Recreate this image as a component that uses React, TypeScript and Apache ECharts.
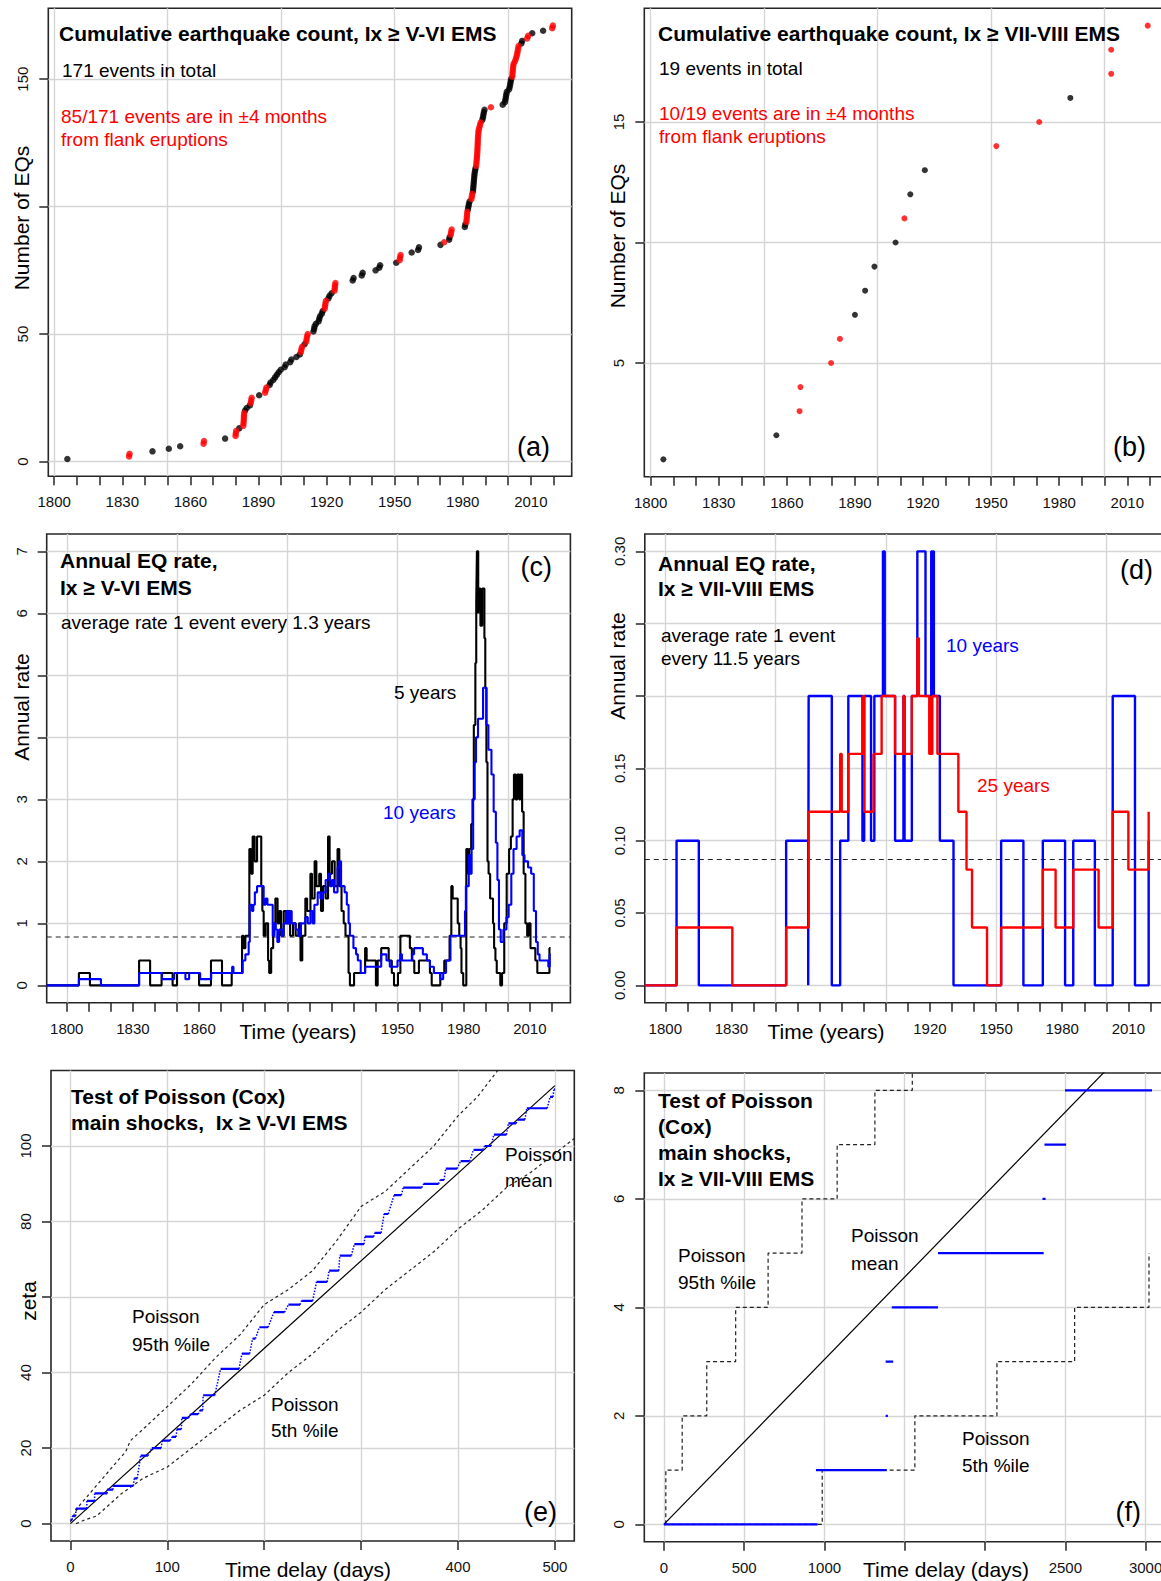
import React, { useEffect, useRef } from "react";
import * as echarts from "echarts";

const FONT = "'Liberation Sans', Arial, Helvetica, sans-serif";
const INK = "#111111";
const BOX = "#262626";
const GRID_COLOR = "#d5d5d5";
const RED = "#ff0000";
const BLUE = "#0000ff";

// ---------- (a) earthquakes Ix >= V-VI : [year, 1 = within ±4 months of flank eruption] ----------
const eventsA: [number, number][] = [
  [1805.8, 0],
  [1833.0, 1], [1833.2, 1],
  [1843.3, 0], [1850.5, 0], [1855.5, 0],
  [1865.8, 1], [1866.0, 1],
  [1875.3, 0],
  [1879.9, 1], [1880.0, 1], [1880.2, 1],
  [1881.5, 0],
  [1883.3, 1], [1883.4, 1], [1883.5, 1], [1883.55, 1], [1883.6, 1], [1883.7, 1],
  [1884.1, 0], [1884.8, 0], [1886.2, 0],
  [1886.6, 1], [1886.8, 1], [1887.0, 1],
  [1890.3, 0],
  [1892.9, 1], [1893.2, 1], [1893.5, 1],
  [1894.9, 0], [1895.3, 0], [1896.5, 0], [1897.3, 0], [1898.1, 0], [1898.9, 0], [1899.8, 0],
  [1901.5, 0], [1902.0, 0], [1904.0, 0], [1904.5, 0], [1906.7, 0], [1908.2, 0],
  [1908.7, 1], [1908.9, 1], [1909.2, 1],
  [1910.3, 0],
  [1911.0, 1], [1911.2, 1], [1911.4, 1], [1911.7, 1],
  [1914.2, 0], [1914.5, 0], [1914.7, 0], [1915.3, 0], [1916.5, 0], [1916.8, 0], [1917.1, 0], [1917.9, 0], [1918.3, 0],
  [1919.2, 1], [1919.3, 1], [1919.5, 1], [1919.7, 1],
  [1920.8, 0], [1921.3, 0], [1922.2, 0],
  [1923.5, 1], [1923.6, 1], [1923.7, 1], [1923.9, 1],
  [1931.5, 0], [1931.9, 0], [1935.5, 0], [1935.9, 0], [1941.6, 0], [1943.2, 0], [1943.6, 0], [1950.7, 0],
  [1952.2, 1], [1952.4, 1], [1952.6, 1],
  [1957.5, 0], [1960.3, 0], [1960.7, 0], [1970.2, 0],
  [1971.8, 1],
  [1974.0, 0], [1974.2, 0],
  [1974.7, 1], [1974.9, 1], [1975.1, 1],
  [1980.9, 0], [1981.1, 0],
  [1981.6, 1], [1981.7, 1], [1981.8, 1], [1981.9, 1], [1982.0, 1],
  [1982.3, 0], [1982.5, 0], [1982.7, 0], [1983.0, 0],
  [1983.8, 1], [1984.0, 1], [1984.2, 1],
  [1984.5, 0], [1984.6, 0], [1984.7, 0], [1984.8, 0], [1984.9, 0], [1985.0, 0], [1985.1, 0], [1985.2, 0], [1985.4, 0], [1985.6, 0],
  [1985.9, 1], [1986.0, 1], [1986.1, 1], [1986.2, 1], [1986.3, 1], [1986.4, 1], [1986.45, 1], [1986.5, 1], [1986.55, 1],
  [1986.6, 1], [1986.65, 1], [1986.7, 1], [1986.8, 1], [1986.9, 1], [1987.0, 1], [1987.3, 1], [1987.6, 1], [1987.9, 1],
  [1988.6, 0], [1988.9, 0], [1989.1, 0], [1989.3, 0], [1989.6, 0],
  [1992.4, 1],
  [1997.6, 0], [1998.6, 0], [1998.8, 0], [1999.0, 0], [1999.2, 0], [1999.4, 0],
  [2000.4, 0], [2000.7, 0], [2000.9, 0], [2001.1, 0], [2001.3, 0],
  [2001.8, 1], [2001.9, 1], [2002.0, 1], [2002.1, 1], [2002.2, 1], [2002.4, 1], [2003.0, 1],
  [2003.4, 1], [2003.7, 1], [2004.0, 1], [2004.2, 1], [2004.4, 1], [2004.6, 1],
  [2005.8, 0], [2006.2, 0],
  [2008.4, 1], [2008.8, 1],
  [2010.6, 0], [2015.4, 0],
  [2019.4, 1], [2019.7, 1],
];

// ---------- (b) earthquakes Ix >= VII-VIII ----------
const eventsB: [number, number][] = [
  [1805.6, 0], [1855.4, 0], [1865.6, 1], [1866.0, 1], [1879.5, 1], [1883.4, 1], [1890.0, 0],
  [1894.5, 0], [1898.6, 0], [1907.9, 0], [1911.8, 1], [1914.4, 0], [1920.8, 0], [1952.3, 1],
  [1971.2, 1], [1984.9, 0], [2002.9, 1], [2002.9, 1], [2019.0, 1],
];

// ---------- (c) annual rate, Ix >= V-VI : [start year, rate] step values ----------
const rate5yC: [number, number][] = [
  [1790.9, 0], [1805.5, 0.2], [1810.5, 0], [1832.8, 0.4], [1837.8, 0], [1843, 0.2], [1848, 0], [1850, 0.2], [1860, 0],
  [1865.4, 0.4], [1870.4, 0], [1874.8, 0.2], [1879.5, 0.8], [1880.2, 0.6], [1881, 0.8], [1882.8, 2.2], [1883.6, 1.8],
  [1884.3, 2.4], [1885.2, 2.0], [1886.3, 2.4], [1888.2, 1.6], [1888.7, 1.2], [1889.3, 0.8], [1890.2, 1.0], [1891.3, 0.4],
  [1891.8, 0.2], [1892.7, 0.6], [1893.6, 1.0], [1894.6, 1.4], [1895.6, 1.0], [1896.4, 1.2], [1897.2, 0.8], [1898.4, 1.2],
  [1899.5, 1.0], [1900.4, 1.2], [1901.3, 0.8], [1902.6, 1.0], [1903.8, 0.8], [1905.3, 1.0], [1906, 0.4], [1906.8, 0.8],
  [1908.2, 1.4], [1909, 1.2], [1910.5, 1.8], [1911.2, 1.4], [1912.4, 2.0], [1913.2, 1.6], [1914.5, 1.8], [1915.3, 1.2],
  [1916.2, 1.6], [1917.4, 1.4], [1918.5, 2.4], [1919.2, 1.8], [1920.3, 2.0], [1921.5, 1.6], [1922.8, 2.2], [1923.6, 1.6],
  [1924.6, 1.2], [1925.6, 1.0], [1926.4, 0.8], [1927.8, 0.2], [1928.4, 0], [1930.3, 0.2], [1935.3, 0.6], [1936, 0.4],
  [1940.2, 0], [1941, 0.4], [1942.6, 0.6], [1946, 0.4], [1947.4, 0.2], [1948.4, 0], [1950.2, 0.2], [1951.3, 0.8],
  [1955.6, 0.6], [1956.5, 0.4], [1957.6, 0.2], [1959.7, 0.4], [1964.7, 0.2], [1965.5, 0], [1969.4, 0.2], [1971.2, 0.4],
  [1973.6, 0.8], [1974.4, 1.6], [1975, 1.4], [1977.3, 1.0], [1978, 0.8], [1978.6, 0.6], [1979, 0.2], [1979.8, 0],
  [1981.2, 2.2], [1982, 1.8], [1982.6, 2.2], [1983.4, 2.6], [1984, 3.0], [1984.6, 4.2], [1985.3, 5.2], [1985.7, 6.2],
  [1986, 7.0], [1986.6, 6.0], [1986.9, 6.4], [1987.6, 5.8], [1988.4, 6.4], [1989.4, 5.6], [1989.8, 4.8], [1990.3, 3.6],
  [1990.8, 2.0], [1991.3, 1.8], [1992, 1.4], [1993.3, 1.0], [1993.8, 0.6], [1994.4, 0.4], [1995, 0.2], [1996.6, 0],
  [1997.4, 0.2], [1998.4, 1.0], [1999.5, 1.8], [2000.6, 2.2], [2001.4, 2.4], [2002.2, 3.0], [2002.8, 3.4], [2003.6, 3.0],
  [2004.3, 3.4], [2005.2, 3.0], [2005.7, 3.4], [2006.5, 2.8], [2007.2, 1.8], [2008, 1.0], [2008.8, 0.8], [2009.5, 1.0],
  [2010.3, 0.6], [2012.5, 0.4], [2013.4, 0.2], [2018.9, 0.6], [2019.4, 0.6],
];
const rate10yC: [number, number][] = [
  [1790.9, 0], [1805.5, 0.1], [1815.5, 0], [1832.8, 0.2], [1843.2, 0.1], [1848.7, 0.2], [1853.8, 0.1], [1855.5, 0.2],
  [1860.5, 0.1], [1865.5, 0.2], [1875, 0.3], [1875.6, 0.2], [1879.8, 0.4], [1881, 0.5], [1882.5, 0.7], [1883, 1.3],
  [1884, 1.2], [1884.6, 1.3], [1885.3, 1.5], [1886.3, 1.6], [1889.3, 1.3], [1890.2, 1.4], [1891, 1.3], [1893.4, 0.8],
  [1894.2, 1.0], [1894.8, 0.9], [1895.5, 0.7], [1896.3, 0.9], [1897.6, 0.8], [1898.3, 1.0], [1899.5, 1.2], [1900.3, 1.0],
  [1901.3, 1.2], [1902, 1.0], [1903.8, 0.9], [1905, 0.8], [1906.2, 1.0], [1908.2, 1.1], [1909.3, 1.0], [1910.5, 1.2],
  [1911.5, 1.0], [1912.3, 1.3], [1913.8, 1.5], [1915, 1.4], [1916.2, 1.5], [1917.4, 1.7], [1918.5, 1.8], [1919.4, 1.6],
  [1920.3, 1.7], [1921.2, 1.5], [1922.8, 1.9], [1923.6, 2.0], [1924.4, 1.6], [1926, 1.5], [1927, 1.3], [1927.8, 1.0],
  [1928.4, 0.8], [1930, 0.6], [1931.2, 0.5], [1932, 0.4], [1933.3, 0.2], [1935.3, 0.3], [1942.6, 0.5], [1945, 0.4],
  [1946.5, 0.3], [1950, 0.4], [1951.3, 0.5], [1952, 0.4], [1956.7, 0.5], [1957.5, 0.6], [1961.5, 0.5], [1963.3, 0.4],
  [1964.7, 0.3], [1966.5, 0.2], [1969.4, 0.1], [1970.7, 0.2], [1972, 0.4], [1974, 0.8], [1980.6, 1.2], [1981, 1.6],
  [1982.3, 2.1], [1983, 1.8], [1983.6, 2.2], [1984.3, 3.0], [1985, 3.6], [1985.6, 4.0], [1986.5, 4.3], [1988.8, 4.8],
  [1990.3, 4.2], [1991.2, 3.8], [1992.6, 3.4], [1993.6, 2.8], [1994.6, 2.3], [1995.3, 1.7], [1996, 0.9], [1996.8, 0.7],
  [1998, 0.9], [1999.4, 1.1], [2000.4, 1.3], [2001.6, 1.8], [2002.6, 2.2], [2004, 2.4], [2005.4, 2.5], [2006.6, 2.1],
  [2007.6, 2.0], [2009.2, 1.9], [2010.6, 1.8], [2011.8, 1.2], [2012.8, 0.7], [2013.6, 0.5], [2014.4, 0.4], [2018.4, 0.3],
  [2019, 0.5], [2019.4, 0.5],
];
const avgRateC = 0.78; // 1 event every 1.3 years

// ---------- (d) annual rate, Ix >= VII-VIII ----------
const rate10yD: [number, number][] = [
  [1790.7, 0], [1805.1, 0.1], [1815.2, 0], [1854.8, 0.1], [1864.8, 0], [1865, 0.2], [1875.5, 0], [1879.3, 0.1],
  [1883, 0.2], [1889.4, 0.1], [1890.2, 0.2], [1893.3, 0.1], [1894.8, 0.2], [1898.7, 0.3], [1899.5, 0.2], [1904.2, 0.1],
  [1908, 0.2], [1908.5, 0.1], [1911.8, 0.2], [1914.3, 0.3], [1918, 0.2], [1920.6, 0.3], [1921.1, 0.2], [1921.4, 0.3],
  [1921.8, 0.2], [1924.5, 0.1], [1930.7, 0], [1952.3, 0.1], [1962.4, 0], [1971.2, 0.1], [1981.3, 0], [1985, 0.1],
  [1994.8, 0], [2002.9, 0.2], [2013, 0], [2019.2, 0.1], [2019.5, 0.1],
];
const rate25yD: [number, number][] = [
  [1790.7, 0], [1805.1, 0.04], [1830.4, 0], [1854.8, 0.04], [1865, 0.12], [1879.3, 0.16], [1880, 0.12], [1883, 0.16],
  [1889.7, 0.2], [1890.2, 0.12], [1894.4, 0.16], [1898.1, 0.2], [1904.2, 0.16], [1908, 0.2], [1908.4, 0.16],
  [1911.8, 0.2], [1914.3, 0.24], [1915, 0.2], [1919.7, 0.16], [1920.4, 0.2], [1920.7, 0.16], [1921.1, 0.2],
  [1923.4, 0.16], [1932.9, 0.12], [1936.6, 0.08], [1939.1, 0.04], [1945.9, 0], [1952.3, 0.04], [1971.2, 0.08],
  [1977, 0.04], [1985, 0.08], [1996.5, 0.04], [2002.9, 0.12], [2010, 0.08], [2019.2, 0.12],
];
const avgRateD = 0.087; // 1 event every 11.5 years

// ---------- (e) Cox test, Ix >= V-VI ----------
const meanE: [number, number][] = [[0, 0], [500, 116]];
const upper95E: [number, number][] = [
  [0, 0.5], [5, 3], [10, 5], [20, 8], [30, 11], [40, 14], [50, 17], [57, 19], [62, 22], [75, 25], [100, 31], [125, 37],
  [150, 44], [175, 50], [200, 58], [225, 62], [250, 67], [275, 75], [300, 84], [325, 88], [350, 94], [375, 100],
  [400, 108], [420, 113], [441, 120],
];
const lower05E: [number, number][] = [
  [6, 0], [15, 1], [27, 2], [40, 5], [53, 8], [75, 12], [100, 15], [125, 20], [150, 25], [175, 30], [200, 34],
  [225, 40], [250, 45], [275, 51], [300, 56], [325, 62], [350, 67], [375, 72], [400, 78], [425, 83], [450, 89],
  [475, 93], [500, 98], [520, 102],
];
// observed zeta: [from day, to day, zeta]
const observedE: [number, number, number][] = [
  [0, 2, 1], [2, 5.5, 2], [5.7, 17, 4], [17, 25, 6], [25, 38, 8], [38, 44, 9], [44, 65, 10], [66, 69, 12],
  [72.5, 80, 18], [84, 93.5, 20], [95, 103, 22], [105, 109, 23], [110, 114.5, 25], [115, 122, 28], [124, 132, 29],
  [133.6, 136.6, 30], [137, 149, 34], [155, 174, 41], [177, 185, 45], [188, 191, 49], [195, 204, 52], [210, 221, 56],
  [225, 237, 58], [238.5, 250, 59], [254, 265, 64], [267, 277, 67], [278, 290, 71], [293, 303, 74], [304, 313, 76],
  [314, 320.6, 77], [323.7, 328, 82], [334, 341.6, 87], [343.5, 362.6, 89], [364.5, 380, 90], [381.7, 385.5, 91],
  [387.4, 399, 94], [402.7, 412, 96], [416, 425.6, 99], [427.5, 434, 100], [437, 450, 103], [452, 460, 106],
  [462, 469, 107], [471, 492, 110], [495, 498, 113], [499, 500, 115],
];

// ---------- (f) Cox test, Ix >= VII-VIII ----------
const meanF: [number, number][] = [[0, 0], [3000, 9.12]];
const upper95F: [number, number][] = [
  [12, 0], [12, 1], [114, 2], [267, 3], [447, 4], [649, 5], [860, 6], [1079, 7], [1314, 8], [1547, 9], [1800, 10],
];
const lower05F: [number, number][] = [
  [0, 0], [986, 0], [986, 1], [1563, 2], [2074, 3], [2558, 4], [3021, 5],
];
const observedF: [number, number, number][] = [
  [0, 958, 0], [947, 1388, 1], [1381, 1395, 2], [1381, 1428, 3], [1419, 1707, 4], [1707, 2365, 5],
  [2358, 2377, 6], [2370, 2505, 7], [2498, 3040, 8],
];

// ---------- axes ----------
const decadeTicks = [1800, 1810, 1820, 1830, 1840, 1850, 1860, 1870, 1880, 1890, 1900, 1910, 1920, 1930, 1940, 1950, 1960, 1970, 1980, 1990, 2000, 2010, 2020];
const yearGrid = [1800, 1850, 1900, 1950, 2000];
const yearLabelsAB = [1800, 1830, 1860, 1890, 1920, 1950, 1980, 2010];
const yearLabelsC = [1800, 1830, 1860, 1950, 1980, 2010];
const yearLabelsD = [1800, 1830, 1920, 1950, 1980, 2010];
const yTicksA = [0, 50, 100, 150];
const yLabelsA = [0, 50, 150];
const yTicksB = [5, 10, 15];
const yLabelsB = [5, 15];
const yTicksC = [0, 1, 2, 3, 4, 5, 6, 7];
const yLabelsC = [0, 1, 2, 3, 6, 7];
const yTicksD = [0, 0.05, 0.1, 0.15, 0.2, 0.25, 0.3];
const yLabelsD = [0, 0.05, 0.1, 0.15, 0.3];
const dayTicksE = [0, 100, 200, 300, 400, 500];
const dayLabelsE = [0, 100, 400, 500];
const yTicksE = [0, 20, 40, 60, 80, 100];
const yLabelsE = [0, 20, 40, 80, 100];
const dayTicksF = [0, 500, 1000, 1500, 2000, 2500, 3000];
const dayLabelsF = [0, 500, 1000, 2500, 3000];
const yTicksF = [0, 2, 4, 6, 8];

type Panel = {
  rect: { left: number; top: number; width: number; height: number };
  x: [number, number];
  y: [number, number];
  xTicks: number[];
  xLabels: number[];
  xGrid: number[];
  yTicks: number[];
  yLabels: number[];
  yDigits: number;
};

const panels: Panel[] = [
  { rect: { left: 48.3, top: 8.3, width: 523.4, height: 468 }, x: [1797.4, 2028.0], y: [-5.8, 177.8], xTicks: decadeTicks, xLabels: yearLabelsAB, xGrid: yearGrid, yTicks: yTicksA, yLabels: yLabelsA, yDigits: 0 },
  { rect: { left: 644.3, top: 8.3, width: 523.4, height: 468.4 }, x: [1797.2, 2027.8], y: [0.28, 19.72], xTicks: decadeTicks, xLabels: yearLabelsAB, xGrid: yearGrid, yTicks: yTicksB, yLabels: yLabelsB, yDigits: 0 },
  { rect: { left: 46.7, top: 534, width: 523.7, height: 468.7 }, x: [1790.9, 2028.4], y: [-0.28, 7.28], xTicks: decadeTicks, xLabels: yearLabelsC, xGrid: yearGrid, yTicks: yTicksC, yLabels: yLabelsC, yDigits: 0 },
  { rect: { left: 644.8, top: 534, width: 523.7, height: 468.7 }, x: [1790.7, 2028.2], y: [-0.012, 0.312], xTicks: decadeTicks, xLabels: yearLabelsD, xGrid: yearGrid, yTicks: yTicksD, yLabels: yLabelsD, yDigits: 2 },
  { rect: { left: 51, top: 1070.5, width: 523.3, height: 470.5 }, x: [-20, 520], y: [-4.6, 120], xTicks: dayTicksE, xLabels: dayLabelsE, xGrid: dayTicksE, yTicks: yTicksE, yLabels: yLabelsE, yDigits: 0 },
  { rect: { left: 644.3, top: 1073, width: 527, height: 468.7 }, x: [-122, 3160], y: [-0.32, 8.32], xTicks: dayTicksF, xLabels: dayLabelsF, xGrid: dayTicksF, yTicks: yTicksF, yLabels: yTicksF, yDigits: 0 },
];

function cumulative(events: [number, number][]) {
  const sorted = events.map((e, i) => ({ y: e[0], f: e[1], i })).sort((a, b) => a.y - b.y || a.i - b.i);
  const red: [number, number][] = [];
  const black: [number, number][] = [];
  sorted.forEach((e, k) => (e.f ? red : black).push([e.y, k + 1]));
  return { red, black };
}

function segments(obs: [number, number, number][]) {
  const out: (number | null)[][] = [];
  obs.forEach(([s, e, z]) => {
    out.push([s, z], [e, z], [e, null]);
  });
  return out;
}

function connectors(obs: [number, number, number][]) {
  const out: (number | null)[][] = [];
  for (let i = 0; i + 1 < obs.length; i++) {
    out.push([obs[i][1], obs[i][2]], [obs[i + 1][0], obs[i + 1][2]], [obs[i + 1][0], null]);
  }
  return out;
}

function txt(text: string, x: number, y: number, o: any = {}) {
  const align = o.align || "left";
  return {
    type: "text",
    x,
    y,
    rotation: o.rot || 0,
    silent: true,
    z: 100,
    style: {
      text,
      fill: o.color || "#000",
      fontFamily: FONT,
      fontSize: o.size || 19,
      fontWeight: o.bold ? "bold" : "normal",
      align,
      textAlign: align,
      verticalAlign: "middle",
      textVerticalAlign: "middle",
    },
  };
}

function buildOption() {
  const grid = panels.map((p) => ({
    left: p.rect.left,
    top: p.rect.top,
    width: p.rect.width,
    height: p.rect.height,
    show: true,
    borderColor: BOX,
    borderWidth: 1.6,
    backgroundColor: "transparent",
    containLabel: false,
    outerBoundsMode: "none",
  }));

  const xAxis: any[] = [];
  const yAxis: any[] = [];
  panels.forEach((p, i) => {
    xAxis.push({
      type: "value",
      gridIndex: i,
      min: p.x[0],
      max: p.x[1],
      position: "bottom",
      axisLine: { show: false, onZero: false },
      axisTick: { show: true, length: 9, customValues: p.xTicks, lineStyle: { color: BOX, width: 1.5 } },
      axisLabel: {
        show: true,
        customValues: p.xLabels,
        margin: 18,
        fontSize: 15,
        fontFamily: FONT,
        color: INK,
        formatter: (v: number) => String(Math.round(v)),
      },
      splitLine: { show: false },
    });
    xAxis.push({
      type: "value",
      gridIndex: i,
      min: p.x[0],
      max: p.x[1],
      position: "bottom",
      axisLine: { show: false, onZero: false },
      axisTick: { show: false, customValues: p.xGrid },
      axisLabel: { show: false },
      splitLine: { show: true, customValues: p.xGrid, lineStyle: { color: GRID_COLOR, width: 1.4 } },
    });
    yAxis.push({
      type: "value",
      gridIndex: i,
      min: p.y[0],
      max: p.y[1],
      position: "left",
      axisLine: { show: false, onZero: false },
      axisTick: { show: true, length: 9, customValues: p.yTicks, lineStyle: { color: BOX, width: 1.5 } },
      axisLabel: {
        show: true,
        customValues: p.yLabels,
        rotate: 90,
        margin: 18,
        fontSize: 15,
        fontFamily: FONT,
        color: INK,
        formatter: (v: number) => v.toFixed(p.yDigits),
      },
      splitLine: { show: true, customValues: p.yTicks, lineStyle: { color: GRID_COLOR, width: 1.4 } },
    });
  });

  const a = cumulative(eventsA);
  const b = cumulative(eventsB);

  const scatter = (pi: number, data: any, color: string, size: number) => ({
    type: "scatter",
    xAxisIndex: pi * 2,
    yAxisIndex: pi,
    data,
    symbol: "circle",
    symbolSize: size,
    itemStyle: { color },
    silent: true,
    z: 3,
  });
  const line = (pi: number, data: any, color: string, width: number, type: any = "solid", step: any = false) => ({
    type: "line",
    xAxisIndex: pi * 2,
    yAxisIndex: pi,
    data,
    step,
    symbol: "none",
    showSymbol: false,
    connectNulls: false,
    clip: true,
    silent: true,
    lineStyle: { color, width, type },
    z: 3,
  });

  const series: any[] = [
    scatter(0, a.black, "#000", 6.5),
    scatter(0, a.red, RED, 6.5),
    scatter(1, b.black, "#000", 6),
    scatter(1, b.red, RED, 6),
    line(2, [[panels[2].x[0], avgRateC], [panels[2].x[1], avgRateC]], "#222", 1.2, [5, 4]),
    line(2, rate5yC, "#000", 2.1, "solid", "end"),
    line(2, rate10yC, BLUE, 2.1, "solid", "end"),
    line(3, [[panels[3].x[0], avgRateD], [panels[3].x[1], avgRateD]], "#222", 1.2, [5, 4]),
    line(3, rate10yD, BLUE, 2.4, "solid", "end"),
    line(3, rate25yD, RED, 2.4, "solid", "end"),
    line(4, upper95E, "#222", 1.2, [3, 3]),
    line(4, lower05E, "#222", 1.2, [3, 3]),
    line(4, meanE, "#000", 1.2),
    line(4, connectors(observedE), BLUE, 1.5, "dotted"),
    line(4, segments(observedE), BLUE, 2.2),
    line(5, upper95F, "#222", 1.2, [4, 3], "end"),
    line(5, lower05F, "#222", 1.2, [4, 3], "end"),
    line(5, meanF, "#000", 1.2),
    line(5, segments(observedF), BLUE, 2.2),
  ];

  const graphics: any[] = [
    // (a)
    txt("Cumulative earthquake count, Ix \u2265 V-VI EMS", 59, 33, { bold: true, size: 21 }),
    txt("171 events in total", 62, 70),
    txt("85/171 events are in \u00b14 months", 61, 116, { color: RED }),
    txt("from flank eruptions", 61, 139, { color: RED }),
    txt("(a)", 550, 447, { size: 27, align: "right" }),
    txt("Number of EQs", 21, 218, { size: 21, align: "center", rot: Math.PI / 2 }),
    // (b)
    txt("Cumulative earthquake count, Ix \u2265 VII-VIII EMS", 658, 33, { bold: true, size: 21 }),
    txt("19 events in total", 659, 68),
    txt("10/19 events are in \u00b14 months", 659, 113, { color: RED }),
    txt("from flank eruptions", 659, 136, { color: RED }),
    txt("(b)", 1146, 447, { size: 27, align: "right" }),
    txt("Number of EQs", 617, 236, { size: 21, align: "center", rot: Math.PI / 2 }),
    // (c)
    txt("Annual EQ rate,", 60, 560, { bold: true, size: 21 }),
    txt("Ix \u2265 V-VI EMS", 60, 587, { bold: true, size: 21 }),
    txt("average rate 1 event every 1.3 years", 61, 622),
    txt("(c)", 552, 567, { size: 27, align: "right" }),
    txt("5 years", 394, 692),
    txt("10 years", 383, 812, { color: BLUE }),
    txt("Annual rate", 21, 707, { size: 21, align: "center", rot: Math.PI / 2 }),
    txt("Time (years)", 298, 1031, { size: 21, align: "center" }),
    // (d)
    txt("Annual EQ rate,", 658, 563, { bold: true, size: 21 }),
    txt("Ix \u2265 VII-VIII EMS", 658, 588, { bold: true, size: 21 }),
    txt("average rate 1 event", 661, 635),
    txt("every 11.5 years", 661, 658),
    txt("(d)", 1153, 570, { size: 27, align: "right" }),
    txt("10 years", 946, 645, { color: BLUE }),
    txt("25 years", 977, 785, { color: RED }),
    txt("Annual rate", 617, 666, { size: 21, align: "center", rot: Math.PI / 2 }),
    txt("Time (years)", 826, 1031, { size: 21, align: "center" }),
    // (e)
    txt("Test of Poisson (Cox)", 71, 1096, { bold: true, size: 21 }),
    txt("main shocks,  Ix \u2265 V-VI EMS", 71, 1122, { bold: true, size: 21 }),
    txt("Poisson", 132, 1316),
    txt("95th %ile", 132, 1344),
    txt("Poisson", 271, 1404),
    txt("5th %ile", 271, 1430),
    txt("Poisson", 505, 1154),
    txt("mean", 505, 1180),
    txt("(e)", 557, 1512, { size: 27, align: "right" }),
    txt("zeta", 28, 1301, { size: 21, align: "center", rot: Math.PI / 2 }),
    txt("Time delay (days)", 308, 1569, { size: 21, align: "center" }),
    // (f)
    txt("Test of Poisson", 658, 1100, { bold: true, size: 21 }),
    txt("(Cox)", 658, 1126, { bold: true, size: 21 }),
    txt("main shocks,", 658, 1152, { bold: true, size: 21 }),
    txt("Ix \u2265 VII-VIII EMS", 658, 1178, { bold: true, size: 21 }),
    txt("Poisson", 678, 1255),
    txt("95th %ile", 678, 1282),
    txt("Poisson", 851, 1235),
    txt("mean", 851, 1263),
    txt("Poisson", 962, 1438),
    txt("5th %ile", 962, 1465),
    txt("(f)", 1141, 1512, { size: 27, align: "right" }),
    txt("Time delay (days)", 946, 1569, { size: 21, align: "center" }),
  ];

  return {
    animation: false,
    backgroundColor: "#ffffff",
    textStyle: { fontFamily: FONT },
    grid,
    xAxis,
    yAxis,
    series,
    graphic: { elements: graphics },
  };
}

export default function App() {
  const ref = useRef<HTMLDivElement>(null);
  useEffect(() => {
    document.body.style.margin = "0";
    const el = ref.current!;
    const chart = echarts.init(el, undefined, { renderer: "svg", width: 1161, height: 1581 });
    chart.setOption(buildOption() as any);
    return () => chart.dispose();
  }, []);
  return (
    <div
      ref={ref}
      style={{ position: "absolute", left: 0, top: 0, width: 1161, height: 1581, background: "#fff", overflow: "hidden" }}
    />
  );
}
